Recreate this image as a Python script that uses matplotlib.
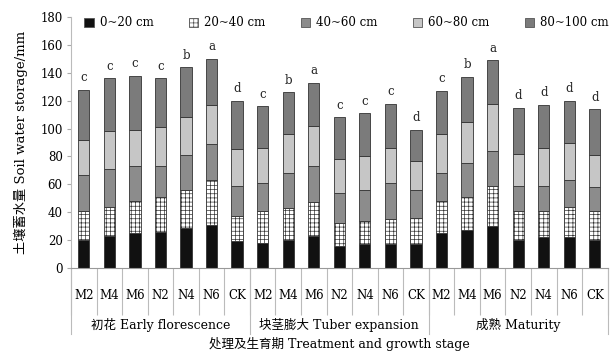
import numpy as np
import matplotlib
matplotlib.use("Agg")
import matplotlib.pyplot as plt
from matplotlib.patches import Patch

plt.rcParams['font.family'] = ['DejaVu Serif', 'Noto Sans CJK SC']
plt.rcParams['hatch.color'] = '#777777'
plt.rcParams['hatch.linewidth'] = 0.5

# soil water storage (mm) per layer, 21 bars: 3 stages x 7 treatments
treatments = ["M2", "M4", "M6", "N2", "N4", "N6", "CK"]
stages = ["初花 Early florescence", "块茎膨大 Tuber expansion", "成熟 Maturity"]
layers = ["0~20 cm", "20~40 cm", "40~60 cm", "60~80 cm", "80~100 cm"]

layer_0_20 = [20, 23, 25, 26, 29, 31, 19,
              18, 20, 23, 16, 17, 17, 17,
              25, 27, 30, 20, 22, 22, 20]
layer_20_40 = [21, 21, 23, 25, 27, 32, 18,
               23, 23, 24, 16, 17, 18, 19,
               23, 24, 29, 21, 19, 22, 21]
layer_40_60 = [26, 27, 25, 22, 25, 26, 22,
               20, 25, 26, 22, 22, 26, 20,
               20, 24, 25, 18, 18, 19, 17]
layer_60_80 = [25, 27, 26, 28, 27, 28, 26,
               25, 28, 29, 24, 24, 25, 21,
               28, 30, 34, 23, 27, 27, 23]
layer_80_100 = [36, 38, 39, 35, 36, 33, 35,
                30, 30, 31, 30, 31, 32, 22,
                31, 32, 31, 33, 31, 30, 33]
letters = ["c", "c", "c", "c", "b", "a", "d",
           "c", "b", "a", "c", "c", "c", "d",
           "c", "b", "a", "d", "d", "d", "d"]

series = [layer_0_20, layer_20_40, layer_40_60, layer_60_80, layer_80_100]
colors = ['#111111', 'white', '#8c8c8c', '#c6c6c6', '#7b7b7b']
hatches = [None, '++++', None, None, None]

fig = plt.figure(figsize=(6.15, 3.57), dpi=100)
ax = fig.add_axes([0.1155, 0.2495, 0.8725, 0.7025])

x = np.arange(len(layer_0_20))
bottom = np.zeros(len(x))
for vals, c, h in zip(series, colors, hatches):
    ax.bar(x, vals, 0.44, bottom=bottom, color=c, hatch=h,
           edgecolor='#333333', linewidth=0.6)
    bottom += np.array(vals)

for xi, top, lt in zip(x, bottom, letters):
    ax.text(xi, top + 4, lt, ha='center', va='bottom', fontsize=8.5, color='#222222')

ax.set_xlim(-0.5, len(x) - 0.5)
ax.set_ylim(0, 180)
ax.set_yticks(range(0, 181, 20))
ax.tick_params(axis='y', labelsize=8.5, length=3, color='#aaaaaa', pad=3)
ax.set_ylabel("土壤蓄水量 Soil water storage/mm", fontsize=9.5, labelpad=9)

for s in ['top', 'right']:
    ax.spines[s].set_visible(False)
ax.spines['left'].set_color('#bbbbbb')
ax.spines['bottom'].set_color('#999999')

# category separators and labels
ax.set_xticks(np.arange(-0.5, len(x), 1.0))
ax.set_xticklabels([])
ax.tick_params(axis='x', length=34, color='#bbbbbb', width=0.8)
ax.set_xticks(x, minor=True)
ax.set_xticklabels(treatments * 3, minor=True)
ax.tick_params(axis='x', which='minor', length=0, labelsize=8.5, pad=15)

trans = ax.get_xaxis_transform()
for gx in [-0.5, 6.5, 13.5, 20.5]:
    ax.plot([gx, gx], [0, -0.263], transform=trans, color='#bbbbbb',
            linewidth=0.8, clip_on=False)
for i, name in enumerate(stages):
    ax.text(i * 7 + 3, -0.228, name, transform=trans, ha='center',
            va='center', fontsize=9)
ax.text(10, -0.305, "处理及生育期 Treatment and growth stage", transform=trans,
        ha='center', va='center', fontsize=9)

handles = [Patch(facecolor=c, hatch=h, edgecolor='#555555', linewidth=0.6)
           for c, h in zip(colors, hatches)]
ax.legend(handles, layers, ncol=5, loc='upper left', bbox_to_anchor=(0.005, 1.045),
          frameon=False, fontsize=8.5, handlelength=0.8, handleheight=0.8,
          handletextpad=0.5, columnspacing=3.0)

fig.savefig("out.png", dpi=100)
